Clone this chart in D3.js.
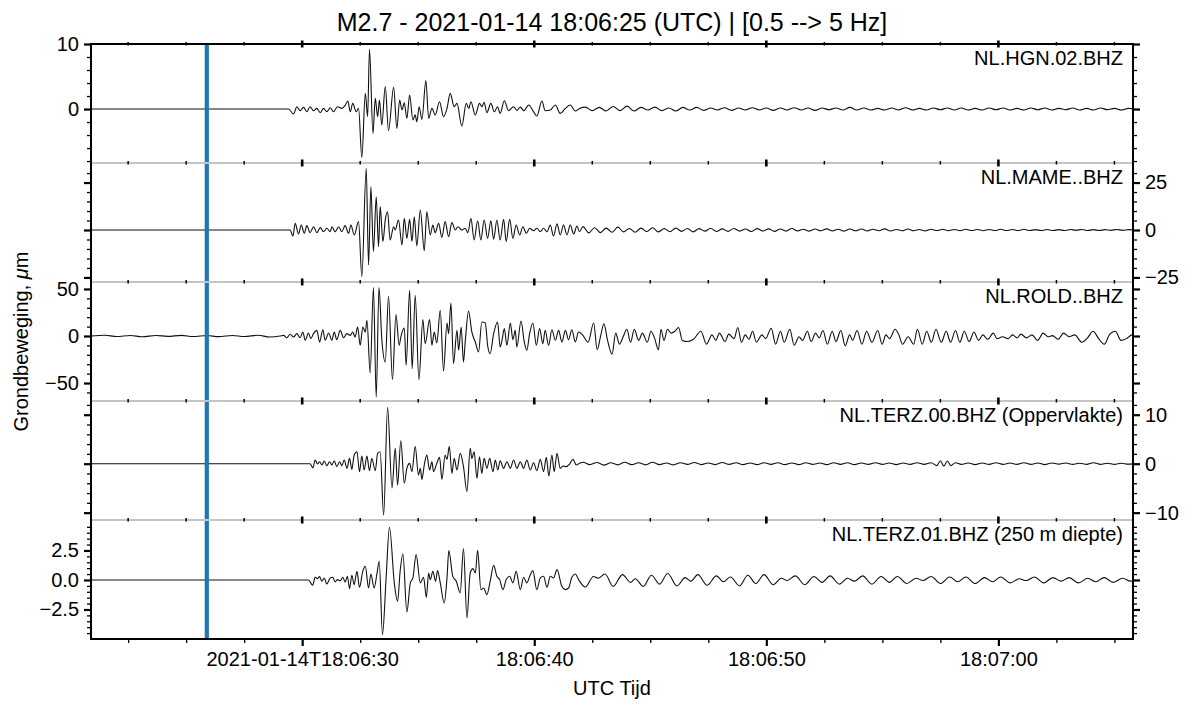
<!DOCTYPE html>
<html><head><meta charset="utf-8">
<script src="https://cdn.jsdelivr.net/npm/d3@7"></script>
<style>
body{margin:0;background:#fff}
text{font-family:"Liberation Sans",Arial,Helvetica,sans-serif;fill:#000}
</style>
</head><body>
<svg id="chart" width="1200" height="711"></svg>
<script>
// ---------------- DATA (time = seconds after 2021-01-14 18:06:00 UTC) ----------------
const titleText = "M2.7 - 2021-01-14 18:06:25 (UTC) | [0.5 --> 5 Hz]";
const stationNames = ["NL.HGN.02.BHZ","NL.MAME..BHZ","NL.ROLD..BHZ","NL.TERZ.00.BHZ (Oppervlakte)","NL.TERZ.01.BHZ (250 m diepte)"];
const timeDomain = [20.9, 65.8];
const originSecond = 25.89;
const xTickSeconds = [30,40,50,60];
const xTickLabels = ["2021-01-14T18:06:30","18:06:40","18:06:50","18:07:00"];
const xMinorStep = 2.5;
const yDomains = [[10,-8.3],[35.3,-27.4],[57.4,-69.1],[12.8,-11.5],[5.08,-5.0]];
const yMajorTicks = [[0,10],[-25,0,25],[-50,0,50],[-10,0,10],[-2.5,0,2.5]];
const yMinorStep = [2,5,10,2,0.5];
const yTickDecimals = [0,0,0,0,1];
const labelSide = ["left","right","left","right","left"];

const hgn = [[20.9,0],[29.41,0],[29.63,-0.77],[29.77,0.36],[29.91,-0.26],[30.06,0.26],[30.20,-0.41],[30.34,0.36],[30.49,-0.26],[30.63,0.1],[30.78,-0.56],[30.92,0.1],[31.06,-0.41],[31.21,0.2],[31.35,-0.41],[31.52,0.36],[31.71,0.1],[31.85,0.56],[31.97,1.23],[32.07,-0.41],[32.18,0.87],[32.33,-0.41],[32.43,0.1],
[32.57,-7.44],[32.72,2.41],[32.82,-1.18],[32.90,9.18],[33.05,-3.74],[33.15,1.64],[33.25,-1.18],[33.33,1.38],[33.43,-2.46],[33.58,3.44],[33.72,-3.33],[33.94,3.33],[34.08,-2.97],[34.20,1.38],[34.30,-0.15],[34.40,0.97],[34.51,-1.44],[34.63,2.15],[34.77,-1.69],[34.87,-0.9],[34.94,-1.95],[35.04,0.36],[35.16,-1.59],[35.33,4.36],[35.45,-1.44],[35.59,0.1],[35.73,-0.92],[35.92,1.13],[36.09,-1.18],[36.24,0.1],[36.38,2.41],[36.55,0.36],[36.67,0.87],[36.88,-2.62],[37.07,0.87],[37.18,0.1],[37.27,1.13],[37.46,-0.92],[37.64,0.87],[37.74,0.36],[37.84,1.03],[37.96,-0.56],[38.13,0.87],[38.28,-0.41],[38.42,0.36],[38.53,-0.67],[38.71,1.28],[38.89,-0.26],[39.11,0.36],[39.25,-0.2],[39.40,0.3],[39.55,-0.26],[39.76,0.62],[39.97,-0.41],[40.11,-1.08],[40.33,1.23],[40.47,-0.26],[40.69,-0.15],[40.91,0.62],[41.12,-0.67],[41.34,0.1],[41.55,0.62],[41.77,-0.3],[41.95,0.1],
[42.2,0.3],[42.5,-0.25],[42.8,0.25],[43.1,-0.3],[43.4,0.4],[43.7,-0.25],[44.0,0.45],[44.3,-0.3],[44.6,0.25],[44.9,-0.15],[45.2,0.3],[45.5,-0.25],[45.8,0.15],[46.1,-0.3],[46.4,0.25],[46.7,-0.15],[47.0,0.25],[47.3,-0.2],[47.6,0.15],[47.9,-0.15],[48.2,0.2],[48.5,-0.2],[48.8,0.15],[49.1,-0.15],[49.4,0.2],[49.7,-0.15],[50.0,0.15],[50.3,-0.2],[50.6,0.15],[50.9,-0.15],[51.2,0.2],[51.5,-0.15],[51.8,0.15],[52.1,-0.2],[52.4,0.15],[52.7,-0.1],[53.0,0.15],[53.3,-0.15],[53.6,0.25],[53.9,-0.15],[54.2,0.15],[54.5,-0.15],[54.8,0.1],[55.1,-0.15],[55.4,0.15],[55.7,-0.15],[56.0,0.2],[56.3,-0.15],[56.6,0.1],[56.9,-0.15],[57.2,0.15],[57.5,-0.1],[57.8,0.15],[58.1,-0.15],[58.4,0.15],[58.7,-0.15],[59.0,0.1],[59.3,-0.15],[59.6,0.15],[59.9,-0.1],[60.2,0.15],[60.5,-0.15],[60.8,0.1],[61.1,-0.15],[61.4,0.15],[61.7,-0.1],[62.0,0.15],[62.3,-0.15],[62.6,0.1],[62.9,-0.1],[63.2,0.15],[63.5,-0.15],[63.8,0.1],[64.1,-0.15],[64.4,0.15],[64.7,-0.1],[65.0,0.1],[65.3,-0.15],[65.6,0.1],[65.9,0]];

const mame = [[20.9,0],[29.41,0],[29.48,0],[29.60,-3.2],[29.70,3.5],[29.84,-2.1],[29.96,2.6],[30.09,-1.75],[30.20,2.3],[30.34,-1.4],[30.49,1.75],[30.63,-1.4],[30.78,1.23],[30.92,-0.9],[31.06,0.9],[31.21,-0.9],[31.28,1.75],[31.42,-0.9],[31.57,1.75],[31.71,-0.9],[31.85,2.3],[32.00,-1.75],[32.10,2.6],[32.24,-2.6],[32.43,4.4],
[32.57,-24.6],[32.76,32.5],[32.86,-18.4],[32.96,22.8],[33.07,-11.4],[33.19,17.5],[33.29,-8.8],[33.36,12.3],[33.48,-6.1],[33.58,5.3],[33.68,9.6],[33.79,-5.3],[33.94,1.75],[34.01,0],[34.15,5.3],[34.30,-7.9],[34.40,6.1],[34.51,-4.4],[34.63,5.6],[34.73,-6.1],[34.83,7.0],[34.94,-8.4],[35.09,10.5],[35.26,-10.9],[35.37,9.6],[35.52,-2.6],[35.63,2.6],[35.73,-1.4],[35.88,3.5],[36.02,-3.9],[36.16,4.4],[36.31,-3.5],[36.45,3.9],[36.60,0],[36.71,1.75],[36.88,0],[37.03,0.9],[37.14,-1.4],[37.27,6.1],[37.41,-5.3],[37.56,4.9],[37.70,-5.3],[37.84,5.3],[37.99,-4.4],[38.13,4.9],[38.25,-4.9],[38.39,5.3],[38.53,-5.3],[38.68,5.6],[38.79,-6.1],[38.94,5.6],[39.08,-4.4],[39.22,2.6],[39.37,-2.6],[39.51,1.75],[39.66,-1.75],[39.80,0.9],[39.97,-0.4],[40.11,0.9],[40.26,-0.9],[40.40,0.9],[40.55,-0.9],[40.69,2.6],[40.83,-3.2],[40.98,3.2],[41.12,-2.6],[41.26,2.6],[41.41,-2.6],[41.55,2.6],[41.70,-2.1],[41.84,2.1],[41.95,-0.9],
[42.10,1.8],[42.35,-1.5],[42.60,1.2],[42.85,-1.4],[43.10,1.0],[43.35,-1.2],[43.60,1.5],[43.85,-1.0],[44.10,0.8],[44.35,-1.2],[44.60,1.0],[44.85,-0.8],[45.10,1.2],[45.35,-1.0],[45.60,0.7],[45.85,-0.9],[46.10,1.0],[46.35,-0.7],[46.60,0.8],[46.85,-1.0],[47.10,0.7],[47.35,-0.6],[47.60,0.9],[47.85,-0.8],[48.10,0.6],[48.35,-0.7],[48.60,0.8],[48.85,-0.6],[49.10,0.5],[49.35,-0.8],[49.60,0.7],[49.85,-0.5],[50.10,0.6],[50.35,-0.7],[50.60,0.5],[50.85,-0.6],[51.10,0.8],[51.35,-0.5],[51.60,0.4],[51.85,-0.6],[52.10,0.5],[52.35,-0.4],[52.60,0.6],[52.85,-0.5],[53.10,0.4],[53.35,-0.6],[53.60,0.5],[53.85,-0.4],[54.10,0.5],[54.35,-0.5],[54.60,0.4],[54.85,-0.4],[55.10,0.6],[55.35,-0.5],[55.60,0.3],[55.85,-0.4],[56.10,0.5],[56.35,-0.4],[56.60,0.3],[56.85,-0.5],[57.10,0.4],[57.35,-0.3],[57.60,0.4],[57.85,-0.4],[58.10,0.3],[58.35,-0.4],[58.60,0.4],[58.85,-0.3],[59.10,0.3],[59.35,-0.4],[59.60,0.3],[59.85,-0.3],[60.10,0.4],[60.35,-0.3],[60.60,0.3],[60.85,-0.3],[61.10,0.4],[61.35,-0.3],[61.60,0.2],[61.85,-0.3],[62.10,0.3],[62.35,-0.3],[62.60,0.2],[62.85,-0.3],[63.10,0.3],[63.35,-0.2],[63.60,0.3],[63.85,-0.3],[64.10,0.2],[64.35,-0.3],[64.60,0.2],[64.85,-0.2],[65.10,0.3],[65.35,-0.2],[65.60,0.2],[65.85,0]];

const rold = [[20.9,0],[21.5,0.8],[22.0,-0.6],[22.6,0.5],[23.1,-0.8],[23.7,0.6],[24.2,-0.4],[24.8,0.7],[25.3,-0.6],[25.9,0.5],[26.4,-0.7],[27.0,0.6],[27.5,-0.5],[28.1,0.8],[28.6,-1.0],
[29.05,0],[29.20,0.7],[29.34,-1.8],[29.48,1.8],[29.63,-1.1],[29.77,2.5],[29.91,-1.8],[30.03,4.3],[30.13,-4.6],[30.27,3.2],[30.37,-2.8],[30.49,2.5],[30.63,6.0],[30.75,-6.4],[30.89,6.7],[30.99,-4.6],[31.14,3.2],[31.28,-4.6],[31.38,4.3],[31.49,-3.9],[31.64,6.0],[31.78,-1.8],[31.93,2.5],[32.07,0.7],[32.18,4.3],[32.28,-1.1],[32.39,9.6],[32.50,-9.9],[32.61,9.6],[32.72,4.3],[32.79,16.7],[32.93,-39.4],[33.07,51.4],[33.19,-64.9],[33.31,51.4],[33.43,-2.8],[33.58,-27.7],[33.72,42.2],[33.89,-46.5],[34.04,22.7],[34.18,-9.9],[34.25,-1.1],[34.40,8.5],[34.48,-31.2],[34.63,48.6],[34.74,-34.8],[34.87,43.3],[35.03,-46.5],[35.20,17.4],[35.30,-8.2],[35.49,17.4],[35.59,-9.9],[35.69,4.3],[35.80,-7.4],[35.95,27.3],[36.09,-37.2],[36.24,13.8],[36.31,2.5],[36.41,35.1],[36.52,-29.4],[36.67,6.0],[36.74,-15.2],[36.85,9.6],[36.95,-27.7],[37.03,-4.6],[37.17,26.6],[37.31,4.3],[37.46,-6.4],[37.60,-17.0],[37.74,14.9],[37.89,13.8],[37.99,-9.9],[38.10,-18.8],[38.25,2.5],[38.42,14.9],[38.53,-11.7],[38.61,-4.6],[38.71,7.8],[38.82,-9.9],[38.97,13.8],[39.08,-3.9],[39.18,6.0],[39.25,-11.7],[39.43,16.0],[39.57,-6.4],[39.68,-15.2],[39.80,2.5],[39.94,13.8],[40.09,-9.9],[40.23,7.8],[40.37,-8.2],[40.47,6.0],[40.62,-9.9],[40.76,6.7],[40.91,-4.6],[41.05,6.0],[41.19,-6.4],[41.34,6.0],[41.48,-3.9],[41.62,6.7],[41.77,-6.4],[41.91,4.3],
[42.08,1.2],[42.32,-6.7],[42.56,13.8],[42.71,-14.6],[42.87,1.2],[43.00,13.0],[43.16,-4.7],[43.35,-19.3],[43.51,3.1],[43.67,-8.7],[43.83,-0.8],[43.99,7.1],[44.15,-6.7],[44.31,7.1],[44.50,-4.7],[44.66,3.1],[44.87,-6.7],[45.03,5.1],[45.19,-2.8],[45.35,-14.6],[45.46,7.1],[45.59,-4.7],[45.74,7.1],[45.90,3.1],[46.06,5.1],[46.22,9.1],[46.38,-4.7],[46.62,-5.9],[46.86,-3.5],[47.18,5.1],[47.42,-8.7],[47.66,1.2],[47.82,-4.7],[47.98,3.1],[48.22,-5.9],[48.38,2.0],[48.61,-2.8],[48.77,9.1],[48.93,-6.7],[49.09,1.2],[49.25,-3.5],[49.41,5.1],[49.57,-6.7],[49.81,1.2],[49.97,-2.8],[50.21,8.3],[50.40,-8.7],[50.61,5.1],[50.77,-6.7],[51.01,7.1],[51.20,-9.8],[51.41,-0.8],[51.56,-4.7],[51.77,5.1],[51.93,-5.9],[52.12,3.1],[52.28,-2.0],[52.44,5.9],[52.63,-8.7],[52.84,5.1],[53.00,-5.9],[53.21,5.9],[53.40,-10.6],[53.59,1.2],[53.72,-4.7],[53.91,5.9],[54.12,-8.7],[54.32,5.1],[54.55,-6.7],[54.80,5.9],[54.99,-8.7],[55.15,1.2],[55.31,-2.8],[55.55,7.1],[55.71,1.2],[55.87,-8.7],[56.11,-0.8],[56.35,-8.7],[56.51,7.1],[56.72,-8.7],[56.91,5.1],[57.11,-6.7],[57.31,7.1],[57.54,-6.7],[57.75,5.1],[57.94,-6.7],[58.15,5.9],[58.34,-6.7],[58.53,5.1],[58.74,-5.9],[58.95,4.3],[59.14,-4.7],[59.33,1.2],[59.54,-3.5],[59.78,3.1],[59.94,-2.8],[60.18,-0.8],[60.42,-2.8],[60.61,1.2],[60.81,-2.0],[60.97,2.0],[61.21,-2.0],[61.45,1.2],[61.69,-4.7],[61.93,3.1],[62.14,-0.8],[62.33,0.4],[62.57,-3.5],[62.81,3.1],[63.05,-0.8],[63.29,1.2],[63.60,-6.7],[63.84,-2.0],[64.08,5.1],[64.32,-2.8],[64.56,-8.7],[64.80,2.0],[65.04,5.1],[65.28,-4.7],[65.52,-2.8],[65.76,1.2],[65.90,-0.8]];

const terz00 = [[20.9,0],[30.34,0],[30.46,-0.88],[30.56,0.75],[30.66,-0.07],[30.75,0.41],[30.85,-0.27],[30.95,0.54],[31.06,-0.41],[31.18,0.41],[31.28,-0.27],[31.38,0.61],[31.49,-0.61],[31.61,0.41],[31.71,-0.41],[31.81,0.75],[31.93,-0.95],[32.04,1.09],[32.14,-1.16],[32.24,1.77],[32.36,2.45],[32.47,-1.63],[32.57,1.56],[32.67,-1.29],[32.79,1.56],[32.90,-1.43],[33.00,1.09],[33.15,-1.43],[33.25,2.11],[33.36,2.45],
[33.51,-10.5],[33.68,11.5],[33.87,-5.0],[34.01,3.13],[34.11,-4.35],[34.25,4.69],[34.40,-4.01],[34.51,-0.95],[34.63,0.07],[34.73,-1.63],[34.87,3.54],[35.01,-2.31],[35.09,-0.95],[35.16,-3.2],[35.26,-0.27],[35.37,1.77],[35.49,-1.29],[35.59,0.41],[35.66,-1.63],[35.80,0.07],[35.92,1.29],[36.02,-3.2],[36.16,1.77],[36.24,0.88],[36.34,3.54],[36.45,-1.97],[36.55,1.09],[36.67,-1.29],[36.81,2.11],[36.95,-0.61],[37.10,-5.7],[37.24,3.13],[37.31,1.09],[37.41,2.45],[37.53,-2.99],[37.64,1.43],[37.74,-1.97],[37.84,1.09],[37.96,-0.95],[38.08,1.09],[38.22,-1.63],[38.32,0.75],[38.43,-1.29],[38.53,0.61],[38.68,-0.95],[38.82,0.41],[38.97,-0.95],[39.11,0.75],[39.25,-0.95],[39.40,0.41],[39.54,-0.95],[39.68,0.75],[39.83,-1.29],[39.97,0.2],[40.11,-1.43],[40.26,0.88],[40.40,-1.63],[40.52,1.29],[40.63,-2.52],[40.76,1.77],[40.86,-1.63],[40.98,2.11],[41.12,-0.95],[41.24,-0.48],[41.38,-0.61],[41.52,-0.07],[41.67,0.88],[41.81,-0.27],[41.95,0.07],
[42.10,0.3],[42.40,-0.2],[42.70,0.25],[43.00,-0.3],[43.30,0.2],[43.60,-0.25],[43.90,0.3],[44.20,-0.2],[44.50,0.2],[44.80,-0.25],[45.10,0.3],[45.40,-0.2],[45.70,0.15],[46.00,-0.25],[46.30,0.2],[46.60,-0.15],[46.90,0.25],[47.20,-0.2],[47.50,0.15],[47.80,-0.2],[48.10,0.25],[48.40,-0.15],[48.70,0.2],[49.00,-0.2],[49.30,0.15],[49.60,-0.2],[49.90,0.2],[50.20,-0.15],[50.50,0.2],[50.80,-0.2],[51.10,0.15],[51.40,-0.2],[51.70,0.2],[52.00,-0.15],[52.30,0.15],[52.60,-0.2],[52.90,0.2],[53.20,-0.15],[53.50,0.2],[53.80,-0.2],[54.10,0.15],[54.40,-0.15],[54.70,0.2],[55.00,-0.15],[55.30,0.15],[55.60,-0.2],[55.90,0.15],[56.20,-0.15],[56.50,0.2],[56.80,-0.15],[57.10,0.2],[57.35,-0.4],[57.50,0.6],[57.65,-0.5],[57.80,0.55],[57.95,-0.4],[58.15,0.2],[58.40,-0.15],[58.70,0.15],[59.00,-0.2],[59.30,0.15],[59.60,-0.15],[59.90,0.2],[60.20,-0.15],[60.50,0.15],[60.80,-0.15],[61.10,0.2],[61.40,-0.15],[61.70,0.15],[62.00,-0.2],[62.30,0.15],[62.60,-0.1],[62.90,0.15],[63.20,-0.15],[63.50,0.1],[63.80,-0.15],[64.10,0.2],[64.40,-0.15],[64.70,0.1],[65.00,-0.15],[65.30,0.1],[65.60,-0.1],[65.85,0]];

const terz01 = [[20.9,0],[30.27,0],[30.45,-0.45],[30.56,0.23],[30.66,0.11],[30.75,0.28],[30.85,-0.11],[30.95,0.17],[31.06,-0.34],[31.21,0.17],[31.32,0.23],[31.42,-0.17],[31.52,0.03],[31.64,-0.06],[31.75,0.23],[31.85,-0.17],[31.95,0.31],[32.04,-0.73],[32.14,0.4],[32.24,-0.4],[32.36,0.73],[32.47,-0.62],[32.61,0.73],[32.72,1.16],[32.86,-0.68],[32.96,0.51],[33.10,-0.68],[33.22,0.51],[33.32,1.58],
[33.46,-4.63],[33.62,0.31],[33.76,4.46],[33.97,-0.25],[34.11,-1.81],[34.22,0.73],[34.34,2.2],[34.51,-2.71],[34.66,-0.25],[34.77,0.17],[34.91,2.15],[35.09,-0.25],[35.23,0.23],[35.35,-1.47],[35.45,0.59],[35.52,0.03],[35.63,0.73],[35.75,-0.11],[35.83,0.79],[35.95,-0.25],[36.12,-1.95],[36.24,0.17],[36.32,2.49],[36.49,0.31],[36.64,-0.11],[36.81,-1.1],[36.95,2.66],[37.10,-3.22],[37.24,0.59],[37.36,0.96],[37.46,0.59],[37.56,2.51],[37.70,-0.82],[37.82,-0.68],[37.96,-1.24],[38.10,-0.11],[38.25,1.24],[38.39,0.31],[38.51,0.03],[38.65,-0.82],[38.79,0.03],[38.94,0.31],[39.08,-0.25],[39.22,0.73],[39.40,-0.82],[39.54,0.23],[39.68,-0.25],[39.83,0.45],[39.94,0.79],[40.11,-0.82],[40.26,0.17],[40.40,0.31],[40.55,-0.62],[40.69,0.31],[40.83,0.17],[40.98,0.88],[41.19,-0.54],[41.34,-0.82],[41.48,-0.68],[41.62,0.23],[41.77,0.51],[41.91,0.03],
[42.20,-0.6],[42.55,0.3],[42.75,0.15],[43.05,0.5],[43.40,-0.55],[43.80,0.45],[44.15,-0.2],[44.35,0.1],[44.70,-0.55],[45.05,0.4],[45.40,-0.35],[45.75,0.55],[46.15,-0.5],[46.50,0.2],[46.75,-0.1],[47.05,0.45],[47.45,-0.45],[47.85,0.35],[48.15,-0.15],[48.45,0.25],[48.85,-0.5],[49.20,0.4],[49.55,-0.3],[49.90,0.45],[50.30,-0.4],[50.65,0.15],[50.90,-0.05],[51.25,0.35],[51.65,-0.4],[52.05,0.3],[52.40,-0.2],[52.75,0.35],[53.15,-0.35],[53.50,0.15],[53.80,-0.1],[54.15,0.35],[54.55,-0.35],[54.95,0.3],[55.30,-0.2],[55.65,0.3],[56.05,-0.3],[56.45,0.15],[56.75,-0.05],[57.10,0.3],[57.50,-0.3],[57.90,0.25],[58.25,-0.15],[58.60,0.25],[59.00,-0.3],[59.40,0.2],[59.75,-0.15],[60.10,0.25],[60.50,-0.25],[60.90,0.1],[61.20,-0.05],[61.55,0.25],[61.95,-0.25],[62.35,0.2],[62.70,-0.1],[63.05,0.2],[63.45,-0.25],[63.85,0.15],[64.20,-0.15],[64.55,0.2],[64.95,-0.2],[65.35,0.15],[65.70,-0.1],[65.90,0]];

const traces = [hgn, mame, rold, terz00, terz01];

// ---------------- LAYOUT ----------------
const plotLeft = 91, plotRight = 1133, plotTop = 44, plotBottom = 639;
const nP = traces.length;
const pH = (plotBottom - plotTop) / nP;
const FONT = 20;

const svg = d3.select("#chart");
const t0 = Date.UTC(2021,0,14,18,6,0);
const toDate = s => new Date(t0 + s*1000);
const x = d3.scaleUtc().domain(timeDomain.map(toDate)).range([plotLeft, plotRight]);

const minorX = d3.range(Math.ceil(timeDomain[0]/xMinorStep)*xMinorStep, timeDomain[1], xMinorStep)
  .filter(s => !xTickSeconds.includes(s));

const defs = svg.append("defs");

traces.forEach((data, i) => {
  const top = plotTop + i*pH, bot = top + pH;
  const y = d3.scaleLinear().domain(yDomains[i]).range([top, bot]);
  const g = svg.append("g");
  defs.append("clipPath").attr("id","clip"+i).append("rect")
    .attr("x",plotLeft).attr("y",top).attr("width",plotRight-plotLeft).attr("height",pH);
  const line = d3.line().x(d => x(toDate(d[0]))).y(d => y(d[1])).curve(d3.curveMonotoneX);
  g.append("path").datum(data).attr("d", line).attr("clip-path","url(#clip"+i+")")
    .attr("fill","none").attr("stroke","#111").attr("stroke-width",1.1).attr("stroke-linejoin","round");

  const dmin = Math.min(...yDomains[i]), dmax = Math.max(...yDomains[i]);
  const st = yMinorStep[i];
  const minor = d3.range(Math.ceil(dmin/st)*st, dmax+1e-9, st)
    .filter(v => !yMajorTicks[i].some(m => Math.abs(m-v) < 1e-9) && y(v) > top+1.5 && y(v) < bot-1.5);
  const fmt = d3.format("." + yTickDecimals[i] + "f");
  ["left","right"].forEach(side => {
    const mk = () => side === "left" ? d3.axisLeft(y) : d3.axisRight(y);
    const xpos = side === "left" ? plotLeft : plotRight;
    const gm = svg.append("g").attr("transform", `translate(${xpos},0)`)
      .call(mk().tickValues(yMajorTicks[i]).tickSize(7).tickPadding(5)
        .tickFormat(labelSide[i] === side ? fmt : ""));
    gm.select(".domain").remove();
    gm.selectAll(".tick line").attr("stroke","#000").attr("stroke-width",2.2);
    gm.selectAll(".tick text").style("font-size", FONT+"px").attr("fill","#000")
      .style("font-family",'"Liberation Sans",Arial,sans-serif');
    const gn = svg.append("g").attr("transform", `translate(${xpos},0)`)
      .call(mk().tickValues(minor).tickSize(4).tickFormat(""));
    gn.select(".domain").remove();
    gn.selectAll(".tick line").attr("stroke","#000").attr("stroke-width",1.3);
  });
});

// origin marker
svg.append("line").attr("x1", x(toDate(originSecond))).attr("x2", x(toDate(originSecond)))
  .attr("y1", plotTop).attr("y2", plotBottom).attr("stroke","#1f77b4").attr("stroke-width",4.2);

// separators + x ticks on panel boundaries
for (let i = 1; i < nP; i++) {
  const yb = plotTop + i*pH;
  svg.append("line").attr("x1",plotLeft).attr("x2",plotRight).attr("y1",yb).attr("y2",yb)
    .attr("stroke","#c4c4c4").attr("stroke-width",2);
}
for (let i = 0; i < nP; i++) {
  const yb = plotTop + i*pH;
  svg.append("g").selectAll("line").data(xTickSeconds).join("line")
    .attr("x1", s => x(toDate(s))).attr("x2", s => x(toDate(s)))
    .attr("y1", yb-3.5).attr("y2", yb+3.5).attr("stroke","#000").attr("stroke-width",2.6);
  svg.append("g").selectAll("line").data(minorX).join("line")
    .attr("x1", s => x(toDate(s))).attr("x2", s => x(toDate(s)))
    .attr("y1", yb-2).attr("y2", yb+1.5).attr("stroke","#000").attr("stroke-width",1.5);
}

// spines
svg.append("path").attr("d",`M${plotLeft},${plotBottom}V${plotTop}H${plotRight}V${plotBottom}H${plotLeft}Z`)
  .attr("fill","none").attr("stroke","#000").attr("stroke-width",2);

// bottom axis
const xb = svg.append("g").attr("transform",`translate(0,${plotBottom})`)
  .call(d3.axisBottom(x).tickValues(xTickSeconds.map(toDate)).tickSize(7).tickPadding(6)
    .tickFormat((d,i) => xTickLabels[i]));
xb.select(".domain").remove();
xb.selectAll(".tick line").attr("stroke","#000").attr("stroke-width",2.2);
xb.selectAll(".tick text").style("font-size",FONT+"px").attr("fill","#000")
  .style("font-family",'"Liberation Sans",Arial,sans-serif');
const xbm = svg.append("g").attr("transform",`translate(0,${plotBottom})`)
  .call(d3.axisBottom(x).tickValues(minorX.map(toDate)).tickSize(4).tickFormat(""));
xbm.select(".domain").remove();
xbm.selectAll(".tick line").attr("stroke","#000").attr("stroke-width",1.3);

// station labels
stationNames.forEach((n,i) => {
  svg.append("text").attr("x", plotRight-10).attr("y", plotTop + i*pH + 14)
    .attr("text-anchor","end").attr("dominant-baseline","central")
    .style("font-size",FONT+"px").text(n);
});

// title & axis labels
svg.append("text").attr("x",(plotLeft+plotRight)/2).attr("y",22).attr("text-anchor","middle")
  .attr("dominant-baseline","central").style("font-size","25px").text(titleText);
svg.append("text").attr("x",(plotLeft+plotRight)/2).attr("y",688).attr("text-anchor","middle")
  .attr("dominant-baseline","central").style("font-size",FONT+"px").text("UTC Tijd");
const yl = svg.append("text").attr("transform",`translate(21,${(plotTop+plotBottom)/2}) rotate(-90)`)
  .attr("text-anchor","middle").attr("dominant-baseline","central").style("font-size",FONT+"px");
yl.append("tspan").text("Grondbeweging, ");
yl.append("tspan").style("font-style","italic").text("μ");
yl.append("tspan").text("m");
</script>
</body></html>
